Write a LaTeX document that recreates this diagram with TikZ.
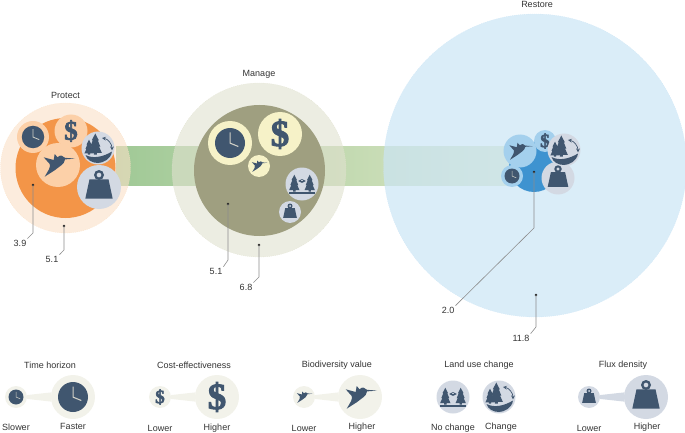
\documentclass[tikz,border=0pt]{standalone}
\usepackage{fontspec}
\setmainfont{Liberation Sans}
\newfontfamily\slabfont[FakeBold=2.5]{Liberation Serif}
\newcommand{\dollarsign}[1]{\fontsize{#1}{#1}\selectfont\slabfont\bfseries\$}
\usetikzlibrary{positioning}

\definecolor{iconblue}{HTML}{40566F}
\definecolor{handgrey}{HTML}{CFCFC6}
\definecolor{txtgrey}{HTML}{333333}
\definecolor{bandstart}{HTML}{A0C996}
\definecolor{bandmid}{HTML}{BCD6AD}
\definecolor{bandend}{HTML}{DCE6C5}
\definecolor{protectring}{HTML}{FAE0C6}
\definecolor{protectcore}{HTML}{F39548}
\definecolor{protectbub}{HTML}{FCD0A8}
\definecolor{manring}{HTML}{E0E1CF}
\definecolor{mancore}{HTML}{9F9F80}
\definecolor{manbub}{HTML}{F6F2C8}
\definecolor{restring}{HTML}{CBE5F5}
\definecolor{restcore}{HTML}{3E93D0}
\definecolor{restbub}{HTML}{A4D0ED}
\definecolor{slatebub}{HTML}{D3D9E3}
\definecolor{legendbub}{HTML}{F2F2EA}

\tikzset{
    pics/clockicon/.style={code={
        \fill[iconblue] (0,0) circle[radius=15];
        \fill[handgrey] (-.5,-10.5) -- (.5,-10.5) -- (.5,-.3) -- (8.5,3) -- (8.1,4) -- (-.5,.5) -- cycle;
    }},
    pics/birdicon/.style={code={
        \fill[iconblue] (17,-6.4) -- (7,-5.6) .. controls (6.6,-3) and (5.5,-1.3) .. (3.3,.3) -- (-3.3,5.3) -- (-13.3,11.7) -- (-9,4.3)
            .. controls (-8,2) and (-7.8,.5) .. (-8.3,-1) -- (-14.3,-7.7) -- (-4.3,-5) -- (-3.3,-11)
            -- (-.3,-7.6) .. controls (.5,-9) and (2,-9.6) .. (3.5,-9.4) .. controls (5,-9.2) and (6.2,-8.4) .. (7,-7.2) -- cycle;
    }},
    pics/weighticon/.style={code={
        \fill[iconblue, even odd rule] (0,-12) circle[radius=5] (0,-12) circle[radius=2.5];
        \fill[iconblue] (-9.5,-7.7) -- (9.5,-7.7) -- (13.7,11.7) -- (-13.7,11.7) -- cycle;
    }},
    pics/pineicon/.style={code={
        \fill[iconblue] (0,-17) -- (2.8,-11.5) -- (2,-11.5) -- (4,-6.5) -- (3,-6.5) -- (5.2,-1.5) -- (1.2,-1.5) -- (1.2,0)
            -- (-1.2,0) -- (-1.2,-1.5) -- (-5.2,-1.5) -- (-3,-6.5) -- (-4,-6.5) -- (-2,-11.5) -- (-2.8,-11.5) -- cycle;
    }},
    pics/nochangeicon/.style={code={
        \pic at (-7.7,7.7) {pineicon};
        \pic at (7.7,7.7) {pineicon};
        \fill[iconblue] (-12.7,7.7) rectangle (12.7,10);
        \draw[iconblue, <->, >=stealth, line width=.7pt] (-3.8,-3) -- (3.8,-3);
    }},
    pics/changeicon/.style={code={
        \pic[scale=1.25] at (-2.7,6.7) {pineicon};
        \pic[scale=.88] at (-9,6.7) {pineicon};
        \fill[iconblue] (-12.5,7) .. controls (-5,11) and (5,9) .. (14,3.5) .. controls (13,11) and (5,15) .. (0,15)
            .. controls (-6,15) and (-11,12) .. cycle;
        \draw[iconblue, <->, >=stealth, line width=.7pt] (4,-10) .. controls (10,-9) and (14,-4) .. (14,2.3);
    }},
}

\begin{document}
\begin{tikzpicture}[x=1pt, y=-1pt,
        bubble/.style={circle, inner sep=0pt, minimum size=#1},
        ringedge/.style={draw=#1, draw opacity=.9, line width=.3pt, dash pattern=on 1pt off 1pt},
        protectbubble/.style={bubble=#1, fill=protectbub},
        manbubble/.style={bubble=#1, fill=manbub},
        restbubble/.style={bubble=#1, fill=restbub},
        slatebubble/.style={bubble=#1, fill=slatebub},
        legendbubble/.style={bubble=#1, fill=legendbub},
        lab/.style={text=txtgrey, font=\fontsize{9}{10}\selectfont, inner sep=1pt},
        icontext/.style={text=iconblue},
        dotnode/.style={circle, fill=black!85, inner sep=0pt, minimum size=2.6pt},
        leader/.style={draw=black!45, line width=.6pt},
        taper/.style={fill=legendbub},
]
        \useasboundingbox (0,0) rectangle (685,433);

        % band between the circles
        \coordinate (bandleft) at (116,146);
        \coordinate (bandright) at (510,185);
        \shade[left color=bandstart, middle color=bandmid, right color=bandend] (bandleft) rectangle (bandright);

        % protect
        \node[bubble=130pt, fill=protectring, fill opacity=.6, ringedge=protectring] (protectouter) at (65.5,168) {};
        \node[bubble=100pt, fill=protectcore] (protectinner) at (65.5,168) {};
        \node[lab] (protectlab) at (65.5,95) {Protect};
        \node[protectbubble=32pt] (pclock) at (33,137) {};
        \node[protectbubble=33pt, icontext] (pdollar) at (71,131) {\dollarsign{27}};
        \node[protectbubble=44pt] (pbird) at (58,165) {};
        \node[slatebubble=33pt] (pchange) at (98,148) {};
        \node[slatebubble=44pt] (pweight) at (99,187) {};
        \pic[scale=.75] at (pclock) {clockicon};
        \pic at (pbird) {birdicon};
        \pic at (pchange) {changeicon};
        \pic at (pweight) {weighticon};
        \node[dotnode] (pdotinner) at (33,185) {};
        \node[dotnode] (pdotouter) at (64,226) {};
        \node[lab] (pvalinner) at (20,243) {3.9};
        \node[lab] (pvalouter) at (52,259) {5.1};
        \draw[leader] (pdotinner.center) -- ++(0,48) -- (pvalinner.north east);
        \draw[leader] (pdotouter.center) -- ++(0,24) -- (pvalouter.north east);

        % manage
        \node[bubble=174pt, fill=manring, fill opacity=.6, ringedge=manring] (manouter) at (259,170) {};
        \node[bubble=131pt, fill=mancore] (maninner) at (259.5,170.5) {};
        \node[lab] (manlab) at (259,74) {Manage};
        \node[manbubble=44pt] (mclock) at (230,143) {};
        \node[manbubble=44pt, icontext] (mdollar) at (280,134) {\dollarsign{37}};
        \node[manbubble=22pt] (mbird) at (259,166) {};
        \node[slatebubble=33pt] (mchange) at (302,184) {};
        \node[slatebubble=22pt] (mweight) at (290,212) {};
        \pic at (mclock) {clockicon};
        \pic[scale=.5] at (mbird) {birdicon};
        \pic at (mchange) {nochangeicon};
        \pic[scale=.5] at (mweight) {weighticon};
        \node[dotnode] (mdotinner) at (228,204) {};
        \node[dotnode] (mdotouter) at (259,245) {};
        \node[lab] (mvalinner) at (216,271) {5.1};
        \node[lab] (mvalouter) at (246,287) {6.8};
        \draw[leader] (mdotinner.center) -- ++(0,56) -- (mvalinner.north east);
        \draw[leader] (mdotouter.center) -- ++(0,32) -- (mvalouter.north east);

        % restore
        \node[bubble=303pt, fill=restring, fill opacity=.7, ringedge=restring] (restouter) at (535,165.5) {};
        \node[bubble=50pt, fill=restcore] (restinner) at (534,167) {};
        \node[lab] (restlab) at (537,4) {Restore};
        \node[restbubble=33pt] (rbird) at (520,151) {};
        \node[restbubble=22pt, icontext] (rdollar) at (545,141) {\dollarsign{19}};
        \node[slatebubble=33pt] (rchange) at (564,150) {};
        \node[slatebubble=33pt] (rweight) at (558,178) {};
        \node[restbubble=22pt] (rclock) at (512,176) {};
        \pic[scale=.75] at (rbird) {birdicon};
        \pic at (rchange) {changeicon};
        \pic[scale=.75] at (rweight) {weighticon};
        \pic[scale=.5] at (rclock) {clockicon};
        \node[dotnode] (rdotinner) at (534,172) {};
        \node[dotnode] (rdotouter) at (536,295) {};
        \node[lab] (rvalinner) at (448,310) {2.0};
        \node[lab] (rvalouter) at (521,338) {11.8};
        \draw[leader] (rdotinner.center) -- ++(0,56) -- (rvalinner.north east);
        \draw[leader] (rdotouter.center) -- ++(0,32) -- (rvalouter.north east);

        % legend
        \node[lab] (timelab) at (50,365) {Time horizon};
        \node[legendbubble=22pt] (timelow) at (16,397) {};
        \node[legendbubble=44pt] (timehigh) at (73,397) {};
        \fill[taper] (timelow.10) -- (timehigh.168) -- (timehigh.192) -- (timelow.-10) -- cycle;
        \pic[scale=.5] at (timelow) {clockicon};
        \pic at (timehigh) {clockicon};
        \node[lab] (timeslow) at (16,427) {Slower};
        \node[lab] (timefast) at (73,426.5) {Faster};

        \node[lab] (costlab) at (194,365) {Cost-effectiveness};
        \node[legendbubble=22pt, icontext] (costlow) at (160,397) {\dollarsign{19}};
        \node[legendbubble=44pt, icontext] (costhigh) at (217,397) {\dollarsign{37}};
        \fill[taper] (costlow.10) -- (costhigh.168) -- (costhigh.192) -- (costlow.-10) -- cycle;
        \node[lab] (costlower) at (160,428) {Lower};
        \node[lab] (costhigher) at (217,428) {Higher};

        \node[lab] (biolab) at (337,365) {Biodiversity value};
        \node[legendbubble=22pt] (biolow) at (304,397) {};
        \node[legendbubble=44pt] (biohigh) at (360,397) {};
        \fill[taper] (biolow.10) -- (biohigh.168) -- (biohigh.192) -- (biolow.-10) -- cycle;
        \pic[scale=.5] at (biolow) {birdicon};
        \pic at (biohigh) {birdicon};
        \node[lab] (biolower) at (304,428) {Lower};
        \node[lab] (biohigher) at (362,427) {Higher};

        \node[lab] (landlab) at (479,365) {Land use change};
        \node[slatebubble=33pt] (landsame) at (453,397) {};
        \node[slatebubble=33pt] (landchange) at (499,397) {};
        \pic at (landsame) {nochangeicon};
        \pic at (landchange) {changeicon};
        \node[lab] (landno) at (453,428) {No change};
        \node[lab] (landyes) at (501,427) {Change};

        \node[lab] (fluxlab) at (623,365) {Flux density};
        \node[slatebubble=22pt] (fluxlow) at (589,397) {};
        \node[slatebubble=44pt] (fluxhigh) at (646,397) {};
        \fill[slatebub] (fluxlow.10) -- (fluxhigh.168) -- (fluxhigh.192) -- (fluxlow.-10) -- cycle;
        \pic[scale=.5] at (fluxlow) {weighticon};
        \pic at (fluxhigh) {weighticon};
        \node[lab] (fluxlower) at (589,428) {Lower};
        \node[lab] (fluxhigher) at (647,427) {Higher};
\end{tikzpicture}
\end{document}
